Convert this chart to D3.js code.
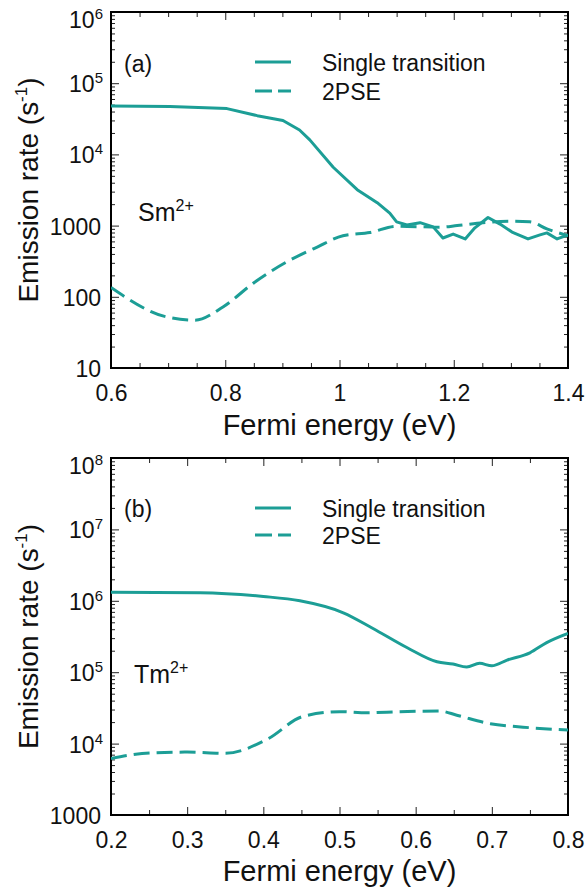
<!DOCTYPE html>
<html>
<head>
<meta charset="utf-8">
<script src="https://cdn.jsdelivr.net/npm/d3@7"></script>
<style>
  html, body { margin: 0; padding: 0; background: #ffffff; }
  svg { display: block; font-family: "Liberation Sans", Arial, sans-serif; }
</style>
</head>
<body>
<svg id="chart" width="588" height="890"></svg>
<script>
// ---------------- data ----------------
// Panel (a) Sm2+
const smSingleX = [0.6, 0.703, 0.803, 0.856, 0.901, 0.93, 0.948, 0.989, 1.031, 1.066, 1.088, 1.10, 1.118, 1.141, 1.164, 1.181, 1.199, 1.22, 1.237, 1.26, 1.281, 1.302, 1.33, 1.351, 1.363, 1.381, 1.4];
const smSingleY = [48000, 47000, 44000, 35000, 30000, 22000, 16000, 6600, 3200, 2100, 1500, 1130, 1020, 1100, 960, 670, 760, 650, 930, 1300, 1050, 810, 650, 740, 790, 650, 740];
const sm2pseX = [0.6, 0.698, 0.747, 0.796, 0.849, 0.908, 0.961, 1.006, 1.053, 1.10, 1.176, 1.206, 1.251, 1.298, 1.333, 1.363, 1.4];
const sm2pseY = [135, 52, 47, 72, 155, 310, 500, 720, 800, 980, 950, 1000, 1100, 1150, 1130, 900, 720];

// Panel (b) Tm2+
const tmSingleX = [0.2, 0.317, 0.40, 0.448, 0.505, 0.544, 0.589, 0.628, 0.649, 0.667, 0.684, 0.70, 0.72, 0.75, 0.772, 0.8];
const tmSingleY = [1.32e6, 1.3e6, 1.15e6, 1.0e6, 6.8e5, 4.1e5, 2.2e5, 1.4e5, 1.3e5, 1.18e5, 1.33e5, 1.23e5, 1.48e5, 1.87e5, 2.6e5, 3.5e5];
const tm2pseX = [0.2, 0.251, 0.30, 0.35, 0.405, 0.452, 0.50, 0.536, 0.579, 0.632, 0.654, 0.698, 0.741, 0.8];
const tm2pseY = [6200, 7400, 7600, 7300, 11500, 24000, 28000, 27000, 28000, 28500, 25000, 19000, 17000, 15500];

// ticks
const smXTicks = [0.6, 0.8, 1.0, 1.2, 1.4];
const smXTickLabels = ["0.6", "0.8", "1", "1.2", "1.4"];
const smYTicks = [1e6, 1e5, 1e4, 1000, 100, 10];
const smYTickLabels = [["10", "6"], ["10", "5"], ["10", "4"], ["1000", ""], ["100", ""], ["10", ""]];
const tmXTicks = [0.2, 0.3, 0.4, 0.5, 0.6, 0.7, 0.8];
const tmXTickLabels = ["0.2", "0.3", "0.4", "0.5", "0.6", "0.7", "0.8"];
const tmYTicks = [1e8, 1e7, 1e6, 1e5, 1e4, 1000];
const tmYTickLabels = [["10", "8"], ["10", "7"], ["10", "6"], ["10", "5"], ["10", "4"], ["1000", ""]];

const legendLabels = ["Single transition", "2PSE"];
const COLOR = "#1c9e96";

const svg = d3.select("#chart");

function panel(cfg) {
  const {left, right, top, bottom, xDomain, yDomain, xMajor, xMajorLabels, xMinorStep,
         yMajor, yMajorLabels, single, pse, tag, ion, legendY, ionPos, tagY} = cfg;
  const x = d3.scaleLinear().domain(xDomain).range([left, right]);
  const y = d3.scaleLog().domain(yDomain).range([bottom, top]);
  const g = svg.append("g");

  // minor ticks
  const xMinor = d3.range(xDomain[0], xDomain[1] + 1e-9, xMinorStep).filter(v => !xMajor.some(m => Math.abs(m - v) < 1e-6));
  const yMinor = [];
  for (let e = Math.round(Math.log10(yDomain[0])); e < Math.round(Math.log10(yDomain[1])); e++) {
    for (let k = 2; k <= 9; k++) yMinor.push(k * Math.pow(10, e));
  }

  // bottom axis (labels + major ticks)
  const axB = d3.axisBottom(x).tickValues(xMajor).tickSizeInner(-8).tickSizeOuter(0).tickPadding(17)
      .tickFormat((d, i) => xMajorLabels[i]);
  const gB = g.append("g").attr("transform", `translate(0,${bottom})`).call(axB);
  gB.selectAll("text").attr("font-size", 23).attr("fill", "#111").attr("font-family", "Liberation Sans, Arial, sans-serif");
  gB.append("g").call(d3.axisBottom(x).tickValues(xMinor).tickSizeInner(-5).tickSizeOuter(0).tickFormat(""));

  // top axis
  const gT = g.append("g").attr("transform", `translate(0,${top})`);
  gT.call(d3.axisTop(x).tickValues(xMajor).tickSizeInner(-8).tickSizeOuter(0).tickFormat(""));
  gT.append("g").call(d3.axisTop(x).tickValues(xMinor).tickSizeInner(-5).tickSizeOuter(0).tickFormat(""));

  // left axis
  const gL = g.append("g").attr("transform", `translate(${left},0)`);
  gL.call(d3.axisLeft(y).tickValues(yMajor).tickSizeInner(-8).tickSizeOuter(0).tickFormat(""));
  gL.append("g").call(d3.axisLeft(y).tickValues(yMinor).tickSizeInner(-4).tickSizeOuter(0).tickFormat(""));
  // right axis
  const gR = g.append("g").attr("transform", `translate(${right},0)`);
  gR.call(d3.axisRight(y).tickValues(yMajor).tickSizeInner(-8).tickSizeOuter(0).tickFormat(""));
  gR.append("g").call(d3.axisRight(y).tickValues(yMinor).tickSizeInner(-4).tickSizeOuter(0).tickFormat(""));

  g.selectAll(".domain").remove();
  g.selectAll(".tick line").attr("stroke", "#222").attr("stroke-width", 1);

  // y tick labels with superscripts
  yMajor.forEach((v, i) => {
    const [base, sup] = yMajorLabels[i];
    let yy = y(v) + 9;
    if (i === 0) yy = y(v) + 16;
    const t = g.append("text").attr("x", sup ? left - 8 : left - 10).attr("y", yy)
      .attr("text-anchor", "end").attr("font-size", 23).attr("fill", "#111");
    t.append("tspan").text(base);
    if (sup) t.append("tspan").attr("font-size", 15).attr("dy", -9).text(sup);
  });

  // frame
  g.append("rect").attr("x", left).attr("y", top).attr("width", right - left).attr("height", bottom - top)
    .attr("fill", "none").attr("stroke", "#000").attr("stroke-width", 2);

  // curves
  const clipId = "clip" + tag.replace(/\W/g, "");
  svg.append("clipPath").attr("id", clipId).append("rect")
    .attr("x", left).attr("y", top).attr("width", right - left).attr("height", bottom - top);
  const line = d3.line().x(d => x(d[0])).y(d => y(d[1]));
  const gc = g.append("g").attr("clip-path", `url(#${clipId})`);
  gc.append("path").datum(d3.zip(single[0], single[1])).attr("d", line.curve(single[2]))
    .attr("fill", "none").attr("stroke", COLOR).attr("stroke-width", 3).attr("stroke-linejoin", "round");
  gc.append("path").datum(d3.zip(pse[0], pse[1])).attr("d", line.curve(d3.curveMonotoneX))
    .attr("fill", "none").attr("stroke", COLOR).attr("stroke-width", 3).attr("stroke-dasharray", "16,7");

  // legend
  g.append("line").attr("x1", 255).attr("x2", 291).attr("y1", legendY[0]).attr("y2", legendY[0])
    .attr("stroke", COLOR).attr("stroke-width", 3);
  g.append("line").attr("x1", 255).attr("x2", 291).attr("y1", legendY[1]).attr("y2", legendY[1])
    .attr("stroke", COLOR).attr("stroke-width", 3).attr("stroke-dasharray", "17,6");
  legendLabels.forEach((s, i) => {
    g.append("text").attr("x", 322).attr("y", legendY[i] + 9).attr("font-size", 23).attr("fill", "#111").text(s);
  });

  // panel tag & ion
  g.append("text").attr("x", 124).attr("y", tagY).attr("font-size", 23).attr("fill", "#111").text(tag);
  const ionT = g.append("text").attr("x", ionPos[0]).attr("y", ionPos[1]).attr("font-size", 25).attr("fill", "#111");
  ionT.append("tspan").text(ion);
  ionT.append("tspan").attr("font-size", 16).attr("dy", -10).text("2+");

  // axis titles
  g.append("text").attr("x", (left + right) / 2).attr("y", cfg.xTitleY).attr("text-anchor", "middle")
    .attr("font-size", 29).attr("fill", "#111").text("Fermi energy (eV)");
  const yt = g.append("text").attr("transform", `translate(38,${(top + bottom) / 2}) rotate(-90)`)
    .attr("text-anchor", "middle").attr("font-size", 28).attr("fill", "#111");
  yt.append("tspan").text("Emission rate (s");
  yt.append("tspan").attr("font-size", 17).attr("dy", -11).text("-1");
  yt.append("tspan").attr("dy", 11).text(")");
}

panel({
  left: 111, right: 568, top: 12, bottom: 368,
  xDomain: [0.6, 1.4], yDomain: [10, 1e6],
  xMajor: smXTicks, xMajorLabels: smXTickLabels, xMinorStep: 0.05,
  yMajor: smYTicks, yMajorLabels: smYTickLabels,
  single: [smSingleX, smSingleY, d3.curveLinear],
  pse: [sm2pseX, sm2pseY],
  tag: "(a)", tagY: 72, ion: "Sm", ionPos: [138, 221],
  legendY: [62, 91], xTitleY: 435
});

panel({
  left: 111, right: 568, top: 458, bottom: 815,
  xDomain: [0.2, 0.8], yDomain: [1000, 1e8],
  xMajor: tmXTicks, xMajorLabels: tmXTickLabels, xMinorStep: 0.05,
  yMajor: tmYTicks, yMajorLabels: tmYTickLabels,
  single: [tmSingleX, tmSingleY, d3.curveMonotoneX],
  pse: [tm2pseX, tm2pseY],
  tag: "(b)", tagY: 517, ion: "Tm", ionPos: [134, 683],
  legendY: [508, 535], xTitleY: 881
});
</script>
</body>
</html>
